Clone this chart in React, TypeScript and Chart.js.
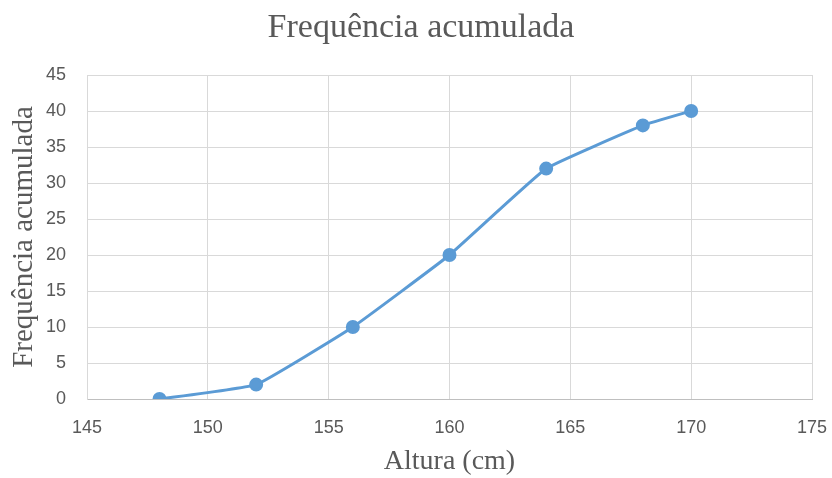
import React, { useEffect, useRef } from "react";
import { Chart, registerables } from "chart.js";

Chart.register(...registerables);

const alturas = [148, 152, 156, 160, 164, 168, 170];
const freqAcumulada = [0, 2, 10, 20, 32, 38, 40];
const chartTitle = "Frequência acumulada";
const xTitle = "Altura (cm)";
const yTitle = "Frequência acumulada";

export default function App() {
  const ref = useRef<HTMLCanvasElement | null>(null);

  useEffect(() => {
    if (!ref.current) return;
    const serif = "'Liberation Serif', 'Times New Roman', serif";
    const sans = "'Liberation Sans', Arial, sans-serif";
    const titlePlugin = {
      id: "customTitle",
      afterDraw(chart: any) {
        const ctx = chart.ctx;
        ctx.save();
        ctx.fillStyle = "#595959";
        ctx.font = `normal 34px ${serif}`;
        ctx.textAlign = "center";
        ctx.textBaseline = "alphabetic";
        ctx.fillText(chartTitle, 421, 37);
        ctx.restore();
      },
    };
    const chart = new Chart(ref.current, {
      type: "scatter",
      data: {
        datasets: [
          {
            label: "Frequência acumulada",
            data: alturas.map((x, i) => ({ x, y: freqAcumulada[i] })),
            showLine: true,
            borderColor: "#5B9BD5",
            backgroundColor: "#5B9BD5",
            borderWidth: 3,
            pointRadius: 5.5,
            pointHoverRadius: 5.5,
            tension: 0.1,
          },
        ],
      },
      options: {
        animation: false,
        responsive: false,
        maintainAspectRatio: false,
        layout: { padding: { left: 0, right: 20, top: 75, bottom: 0 } },
        plugins: {
          legend: { display: false },
          tooltip: { enabled: false },
          title: { display: false },
        },
        scales: {
          x: {
            type: "linear",
            min: 145,
            max: 175,
            ticks: {
              stepSize: 5,
              color: "#595959",
              font: { family: sans, size: 18 },
              padding: 18,
            },
            grid: { color: "#D9D9D9", drawTicks: false, lineWidth: 1 },
            border: { color: "#BFBFBF", width: 1 },
            title: {
              display: true,
              text: xTitle,
              color: "#595959",
              font: { family: serif, size: 28, weight: "normal" },
              padding: { top: 8, bottom: 0 },
            },
            afterFit: (scale: any) => {
              scale.height = 79;
              scale.paddingLeft = 0;
              scale.paddingRight = 0;
            },
          },
          y: {
            type: "linear",
            min: 0,
            max: 45,
            ticks: {
              stepSize: 5,
              color: "#595959",
              font: { family: sans, size: 18 },
              padding: 21,
            },
            grid: { color: "#D9D9D9", drawTicks: false, lineWidth: 1 },
            border: { color: "#D9D9D9", width: 1 },
            title: {
              display: true,
              text: yTitle,
              color: "#595959",
              font: { family: serif, size: 29, weight: "normal" },
              padding: { top: 7, bottom: 0 },
            },
            afterFit: (scale: any) => {
              scale.width = 87;
              scale.paddingTop = 0;
              scale.paddingBottom = 0;
            },
          },
        },
      },
      plugins: [titlePlugin],
    });
    return () => chart.destroy();
  }, []);

  return (
    <div style={{ position: "absolute", left: 0, top: 0, width: 832, height: 478, background: "#fff" }}>
      <canvas ref={ref} width={832} height={478} style={{ width: 832, height: 478 }} />
    </div>
  );
}
